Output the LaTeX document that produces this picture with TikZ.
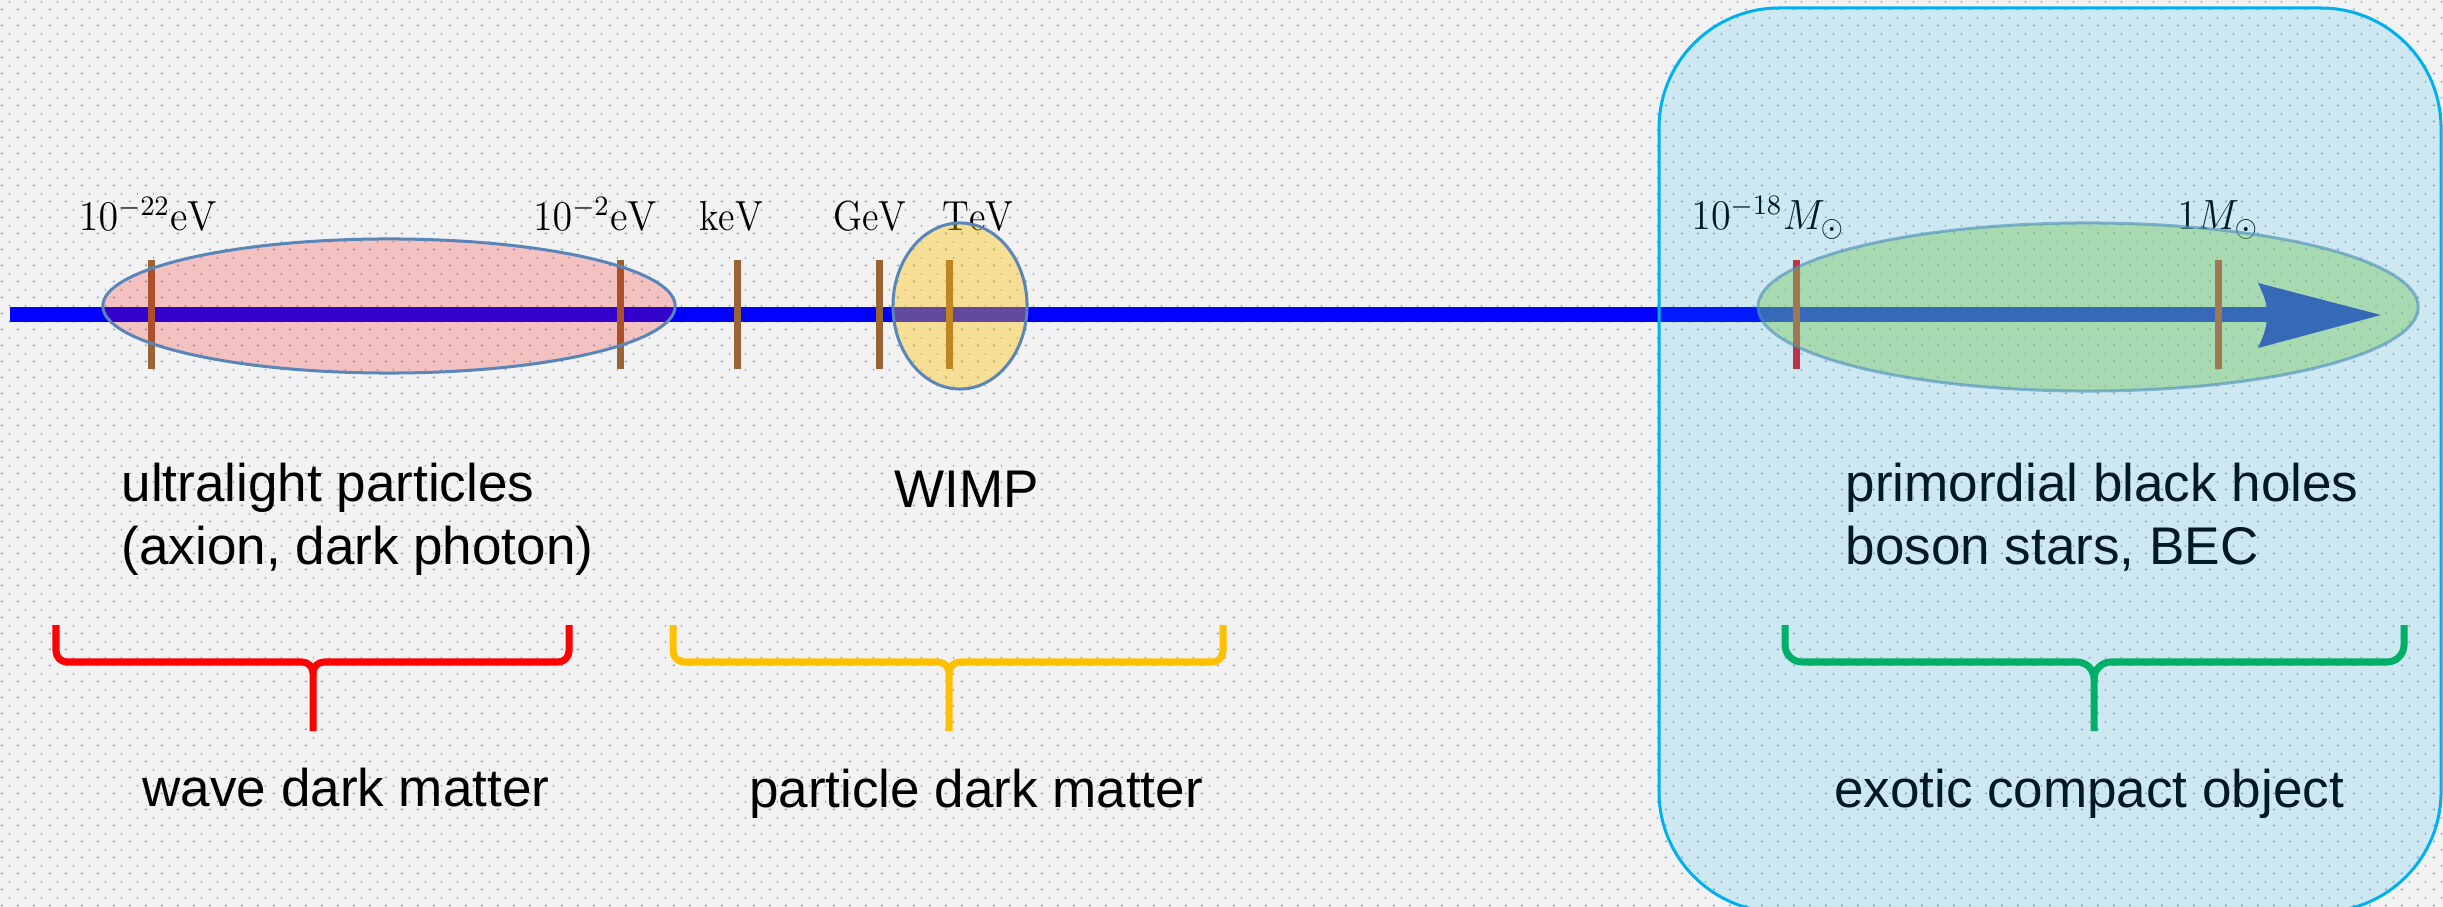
\documentclass[tikz,border=0pt]{standalone}
\usepackage{fontspec}
\usepackage{graphicx}
\usetikzlibrary{patterns}
\newfontfamily\labelsans{Liberation Sans}

\definecolor{paper}{RGB}{242,242,242}
\definecolor{dotblue}{RGB}{128,166,222}
\definecolor{axisblue}{RGB}{0,0,255}
\definecolor{tickbrown}{RGB}{153,99,51}
\definecolor{tickred}{RGB}{222,30,40}
\definecolor{rimblue}{RGB}{88,134,184}
\definecolor{waveRed}{RGB}{255,0,0}
\definecolor{wimpGold}{RGB}{255,192,0}
\definecolor{ecoLight}{RGB}{146,208,80}
\definecolor{ecoGreen}{RGB}{0,176,80}
\definecolor{skyBlue}{RGB}{0,176,240}

% staggered dot grid for the paper background
\pgfdeclarepatternformonly{bgdots}{\pgfpointorigin}{\pgfpoint{0.16cm}{0.16cm}}{\pgfpoint{0.16cm}{0.16cm}}{%
  \pgfpathrectangle{\pgfpoint{0.02cm}{0.02cm}}{\pgfpoint{0.02cm}{0.015cm}}%
  \pgfpathrectangle{\pgfpoint{0.105cm}{0.10cm}}{\pgfpoint{0.012cm}{0.017cm}}%
  \pgfusepath{fill}}

\tikzset{
  axisline/.style={line width=0.15cm, axisblue},
  tickmark/.style={line width=0.07cm, tickbrown},
  redtick/.style={line width=0.07cm, tickred},
  region/.style={line width=0.03cm, draw=rimblue},
  energy/.style={inner sep=0pt, anchor=base, font=\fontsize{11.95pt}{14pt}\selectfont},
  caption/.style={inner sep=0pt, font=\labelsans\fontsize{15.08pt}{18pt}\selectfont},
  bracestroke/.style={line width=0.07cm, line join=round},
}

% curly brace: #1 colour, #2 left end, #3 right end, #4 tip, #5 corner radius
\newcommand\groupbrace[5]{%
  \draw[bracestroke, #1] (#2,625) -- (#2,{662-#5})
    .. controls (#2,{662-0.45*#5}) and ({#2+0.45*#5},662) .. ({#2+#5},662)
    -- ({#4-#5},662)
    .. controls ({#4-0.45*#5},662) and (#4,{662+0.45*#5}) .. (#4,{662+#5})
    -- (#4,731);
  \draw[bracestroke, #1] (#3,625) -- (#3,{662-#5})
    .. controls (#3,{662-0.45*#5}) and ({#3-0.45*#5},662) .. ({#3-#5},662)
    -- ({#4+#5},662)
    .. controls ({#4+0.45*#5},662) and (#4,{662+0.45*#5}) .. (#4,{662+#5});
}

\begin{document}
\begin{tikzpicture}[x=0.01cm, y=-0.01cm]
\clip (0,0) rectangle (2443,907);
\fill[paper] (0,0) rectangle (2443,907);
\fill[pattern=bgdots, pattern color=dotblue] (0,0) rectangle (2443,907);

% mass axis
\coordinate (axstart) at (10,315);
\coordinate (axshaft) at (2272,315);
\coordinate (axtip) at (2381,315);
\draw[axisline] (axstart) -- (axshaft);
\fill[axisblue] (2258,283) -- (axtip) -- (2258,348)
  .. controls (2265,332) .. (2268,315) .. controls (2265,298) .. cycle;

% tick marks
\foreach \x in {151,620,737,879,949}
  \draw[tickmark] (\x,260) -- (\x,369);
\foreach \x in {1796,2218}
  \draw[redtick] (\x,260) -- (\x,369);

% scale labels
\node[energy] (l22) at (148,231) {\scalebox{0.95}[1]{$10^{-22}\mathrm{eV}$}};
\node[energy] (l02) at (595,231) {\scalebox{0.95}[1]{$10^{-2}\mathrm{eV}$}};
\node[energy] (lkev) at (731,231) {\scalebox{0.9}[1]{$\mathrm{keV}$}};
\node[energy] (lgev) at (870,231) {\scalebox{0.9}[1]{$\mathrm{GeV}$}};
\node[energy] (ltev) at (978,231) {\scalebox{0.9}[1]{$\mathrm{TeV}$}};
\node[energy] (l18) at (1768,230) {\scalebox{0.95}[1]{$10^{-18}M_\odot$}};
\node[energy] (l1m) at (2218,230) {\scalebox{0.95}[1]{$1M_\odot$}};

% candidate ranges
\draw[region, fill=waveRed, fill opacity=0.2] (389,306) ellipse [x radius=2.86cm, y radius=0.67cm];
\draw[region, fill=wimpGold, fill opacity=0.38] (960,306) ellipse [x radius=0.67cm, y radius=0.83cm];
\draw[region, draw opacity=0.6, fill=ecoLight, fill opacity=0.45] (2088,307) ellipse [x radius=3.30cm, y radius=0.84cm];

% descriptions
\node[caption, anchor=base west] (ul1) at (121,502) {ultralight particles};
\node[caption, anchor=base west] (ul2) at (121,565) {(axion, dark photon)};
\node[caption, anchor=base] (wimp) at (967,508) {WIMP};
\node[caption, anchor=base west] (pbh1) at (1845,502) {primordial black holes};
\node[caption, anchor=base west] (pbh2) at (1845,565) {boson stars, BEC};

% groupings
\groupbrace{waveRed}{56}{569}{313}{11}
\groupbrace{wimpGold}{673}{1223}{949}{11}
\groupbrace{ecoGreen}{1785}{2404}{2094}{17}

\node[caption, anchor=base] (wave) at (346,806) {wave dark matter};
\node[caption, anchor=base] (part) at (976,807) {particle dark matter};
\node[caption, anchor=base] (eco) at (2089,807) {exotic compact object};

% compact-object panel
\draw[line width=0.03cm, draw=skyBlue, fill=skyBlue, fill opacity=0.15, rounded corners=1.2cm]
  (1659,8) rectangle (2441,912);
\end{tikzpicture}
\end{document}
